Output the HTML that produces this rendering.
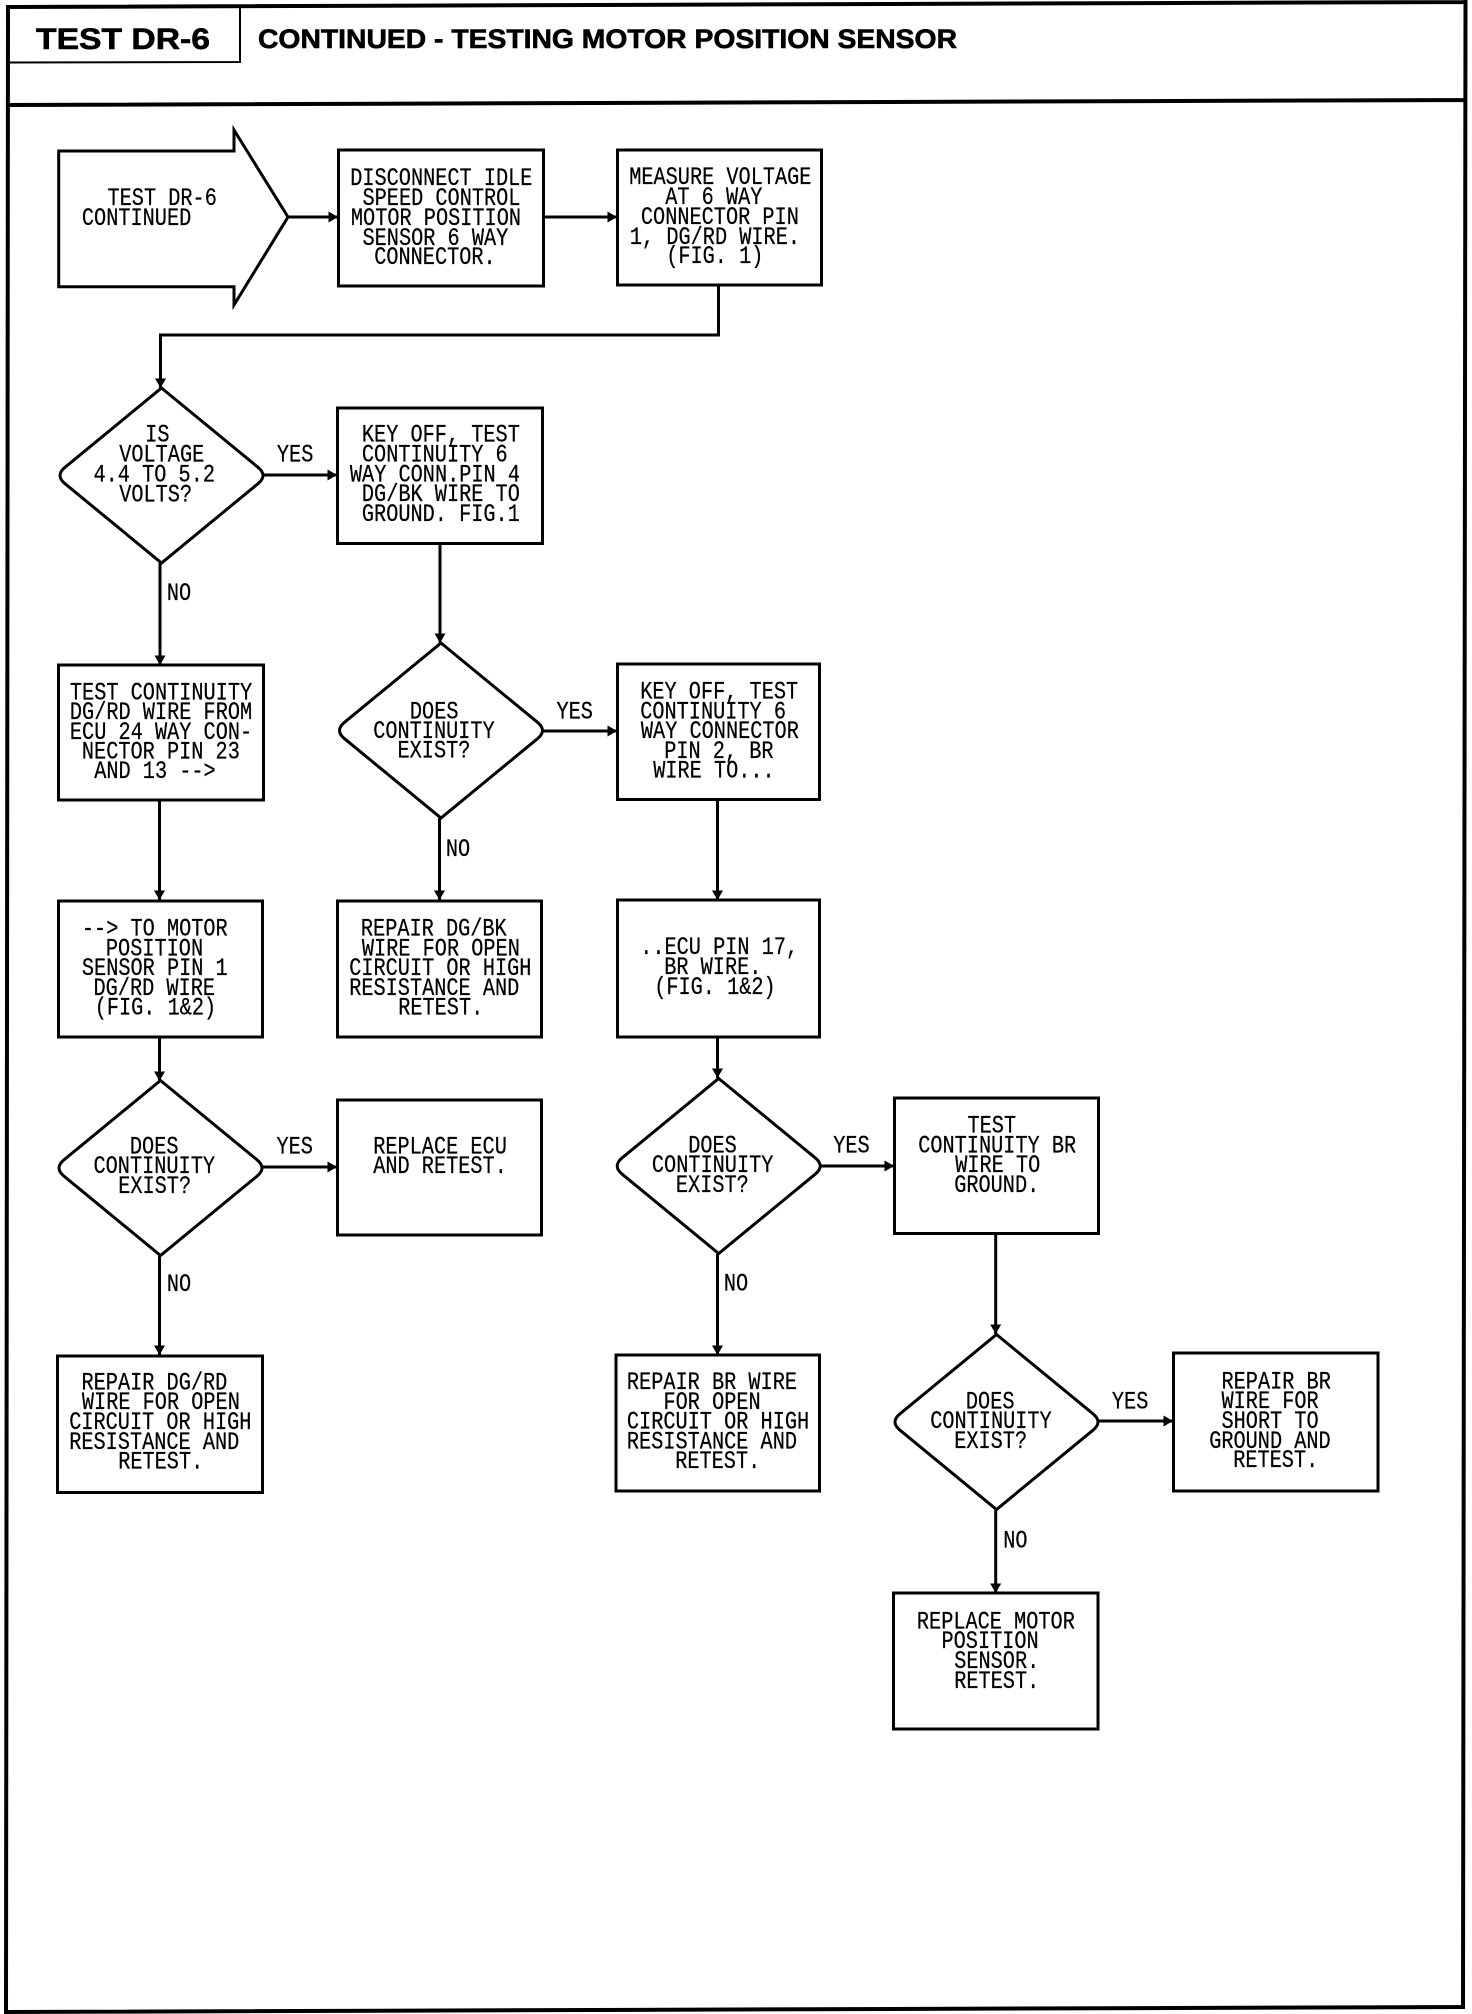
<!DOCTYPE html>
<html><head><meta charset="utf-8"><style>
html,body{margin:0;padding:0;background:#fff}
svg{display:block}
.s{fill:none;stroke:#000;stroke-width:3;stroke-linejoin:miter}
.w{fill:#fff;stroke:#000;stroke-width:3}
.t text{font-family:"Liberation Mono",monospace;font-size:24.7px;fill:#000;stroke:#000;stroke-width:.25}
.h{font-family:"Liberation Sans",sans-serif;font-weight:bold;fill:#000;stroke:#000;stroke-width:.6}
</style></head><body>
<svg xmlns="http://www.w3.org/2000/svg" width="1472" height="2014" viewBox="0 0 1472 2014">
<defs>
<path id="d" d="M0-87.5L96.5-8.2Q106.5 0 96.5 8.2L0 87.5L-96.5 8.2Q-106.5 0-96.5-8.2Z" fill="#fff" stroke="#000" stroke-width="3"/>
<path id="ad" d="M-5.5-9.5H5.5L0 0Z" fill="#000"/>
<path id="ar" d="M-9.5-5.5V5.5L0 0Z" fill="#000"/>
</defs>
<rect width="1472" height="2014" fill="#fff"/>
<!-- frame -->
<path d="M8 7L1466 2M1465.5 0L1463 2009M1463 2007L6 2012M6 2014L8 5M6 105L1465 100" fill="none" stroke="#000" stroke-width="4"/>
<path d="M8 62.5L240 62M240 7V63" fill="none" stroke="#000" stroke-width="2"/>
<text class="h" x="36" y="49" font-size="30" textLength="174" lengthAdjust="spacingAndGlyphs">TEST DR-6</text>
<text class="h" x="258" y="48" font-size="26.5" textLength="699" lengthAdjust="spacingAndGlyphs">CONTINUED - TESTING MOTOR POSITION SENSOR</text>
<!-- connectors -->
<g class="s">
<path d="M288 217H338M543 217H617M718.5 285V335H160.5V388"/>
<path d="M263 475H337M440 543V643M160 563V665M159.5 800V900M159.5 1037V1081M262 1167H337M159.5 1255V1355"/>
<path d="M543 731H617M439.5 818V900M717.5 800V900M717.5 1037V1078M820 1166H894M717.5 1254V1355M995.7 1233V1334M1098 1421H1173M995.7 1510V1593"/>
</g>
<!-- arrowheads -->
<use href="#ar" x="338" y="217"/><use href="#ar" x="617" y="217"/><use href="#ad" x="160.5" y="388"/>
<use href="#ar" x="337" y="475"/><use href="#ad" x="440" y="643"/><use href="#ad" x="160" y="665"/>
<use href="#ad" x="159.5" y="900"/><use href="#ad" x="159.5" y="1081"/><use href="#ar" x="337" y="1167"/>
<use href="#ad" x="159.5" y="1355"/><use href="#ar" x="617" y="731"/><use href="#ad" x="439.5" y="900"/>
<use href="#ad" x="717.5" y="900"/><use href="#ad" x="717.5" y="1078"/><use href="#ar" x="894" y="1166"/>
<use href="#ad" x="717.5" y="1355"/><use href="#ad" x="995.7" y="1334"/><use href="#ar" x="1173" y="1421"/>
<use href="#ad" x="995.7" y="1593"/>
<!-- shapes -->
<path class="s" d="M288 217L234 130V151H58.7V286.7H234V305Z"/>
<g class="s">
<rect x="338.5" y="150" width="205" height="136"/>
<rect x="617.5" y="150" width="204" height="135"/>
<rect x="337.5" y="408" width="205" height="135.5"/>
<rect x="58.5" y="665" width="205" height="135"/>
<rect x="58.5" y="901" width="204" height="136"/>
<rect x="337.5" y="901" width="204" height="136"/>
<rect x="337.5" y="1100" width="204" height="135"/>
<rect x="57.5" y="1356" width="205" height="136.5"/>
<rect x="617.5" y="664" width="202" height="135.5"/>
<rect x="617.5" y="900" width="202" height="137"/>
<rect x="894.5" y="1098" width="204" height="135.5"/>
<rect x="616" y="1355" width="203.5" height="136"/>
<rect x="1173.5" y="1353" width="204.5" height="138"/>
<rect x="893.5" y="1593" width="204.5" height="136"/>
</g>
<use href="#d" x="161.5" y="475.5"/><use href="#d" x="441" y="730.5"/><use href="#d" x="160.5" y="1168"/>
<use href="#d" x="718.7" y="1166"/><use href="#d" x="996.5" y="1422"/>
<!-- text -->
<g class="t" transform="translate(.7 0)">
<text transform="matrix(.82 0 0 1 106.8 205)">TEST DR-6</text>
<text transform="matrix(.82 0 0 1 81.2 225)">CONTINUED</text>

<text transform="matrix(.82 0 0 1 349.5 185)">DISCONNECT IDLE</text>
<text transform="matrix(.82 0 0 1 361.8 205)">SPEED CONTROL</text>
<text transform="matrix(.82 0 0 1 350.2 225)">MOTOR POSITION</text>
<text transform="matrix(.82 0 0 1 361.8 245)">SENSOR 6 WAY</text>
<text transform="matrix(.82 0 0 1 373.5 264)">CONNECTOR.</text>

<text transform="matrix(.82 0 0 1 628.5 184)">MEASURE VOLTAGE</text>
<text transform="matrix(.82 0 0 1 664.5 204)">AT 6 WAY</text>
<text transform="matrix(.82 0 0 1 640.2 224)">CONNECTOR PIN</text>
<text transform="matrix(.82 0 0 1 629.2 244)">1, DG/RD WIRE.</text>
<text transform="matrix(.82 0 0 1 665.5 263)">(FIG. 1)</text>

<text transform="matrix(.82 0 0 1 144.5 441.7)">IS</text>
<text transform="matrix(.82 0 0 1 118.5 461.7)">VOLTAGE</text>
<text transform="matrix(.82 0 0 1 92.8 481.7)">4.4 TO 5.2</text>
<text transform="matrix(.82 0 0 1 118.5 501.7)">VOLTS?</text>
<text transform="matrix(.82 0 0 1 276.2 461.7)">YES</text>
<text transform="matrix(.82 0 0 1 166.2 600)">NO</text>

<text transform="matrix(.82 0 0 1 361.2 441.7)">KEY OFF, TEST</text>
<text transform="matrix(.82 0 0 1 361.2 461.7)">CONTINUITY 6</text>
<text transform="matrix(.82 0 0 1 349.2 481.7)">WAY CONN.PIN 4</text>
<text transform="matrix(.82 0 0 1 361.2 501)">DG/BK WIRE TO</text>
<text transform="matrix(.82 0 0 1 361.2 521)">GROUND. FIG.1</text>

<text transform="matrix(.82 0 0 1 69.2 699.3)">TEST CONTINUITY</text>
<text transform="matrix(.82 0 0 1 69.2 719)">DG/RD WIRE FROM</text>
<text transform="matrix(.82 0 0 1 69.2 739)">ECU 24 WAY CON-</text>
<text transform="matrix(.82 0 0 1 81.2 758.7)">NECTOR PIN 23</text>
<text transform="matrix(.82 0 0 1 93.5 778)">AND 13 --&gt;</text>

<text transform="matrix(.82 0 0 1 409.2 718.3)">DOES</text>
<text transform="matrix(.82 0 0 1 372.5 738)">CONTINUITY</text>
<text transform="matrix(.82 0 0 1 396.8 757.7)">EXIST?</text>
<text transform="matrix(.82 0 0 1 555.8 718.3)">YES</text>
<text transform="matrix(.82 0 0 1 445.2 856)">NO</text>

<text transform="matrix(.82 0 0 1 639.5 698.3)">KEY OFF, TEST</text>
<text transform="matrix(.82 0 0 1 639.5 718.3)">CONTINUITY 6</text>
<text transform="matrix(.82 0 0 1 640.2 738)">WAY CONNECTOR</text>
<text transform="matrix(.82 0 0 1 663.5 758)">PIN 2, BR</text>
<text transform="matrix(.82 0 0 1 652.5 777.7)">WIRE TO...</text>

<text transform="matrix(.82 0 0 1 81.2 935.7)">--&gt; TO MOTOR</text>
<text transform="matrix(.82 0 0 1 105.2 955.7)">POSITION</text>
<text transform="matrix(.82 0 0 1 81.2 975)">SENSOR PIN 1</text>
<text transform="matrix(.82 0 0 1 92.8 995)">DG/RD WIRE</text>
<text transform="matrix(.82 0 0 1 94 1014.7)">(FIG. 1&amp;2)</text>

<text transform="matrix(.82 0 0 1 360.2 935.7)">REPAIR DG/BK</text>
<text transform="matrix(.82 0 0 1 361.2 955.7)">WIRE FOR OPEN</text>
<text transform="matrix(.82 0 0 1 348.5 975)">CIRCUIT OR HIGH</text>
<text transform="matrix(.82 0 0 1 348.5 995)">RESISTANCE AND</text>
<text transform="matrix(.82 0 0 1 397.5 1014.7)">RETEST.</text>

<text transform="matrix(.82 0 0 1 639.5 954)">..ECU PIN 17,</text>
<text transform="matrix(.82 0 0 1 663.5 974)">BR WIRE.</text>
<text transform="matrix(.82 0 0 1 653.5 994)">(FIG. 1&amp;2)</text>

<text transform="matrix(.82 0 0 1 129.2 1153.3)">DOES</text>
<text transform="matrix(.82 0 0 1 92.8 1173)">CONTINUITY</text>
<text transform="matrix(.82 0 0 1 117.5 1193)">EXIST?</text>
<text transform="matrix(.82 0 0 1 275.8 1153.3)">YES</text>
<text transform="matrix(.82 0 0 1 166.2 1291)">NO</text>

<text transform="matrix(.82 0 0 1 372.5 1153.3)">REPLACE ECU</text>
<text transform="matrix(.82 0 0 1 372.5 1173)">AND RETEST.</text>

<text transform="matrix(.82 0 0 1 687.5 1152.3)">DOES</text>
<text transform="matrix(.82 0 0 1 651.2 1172)">CONTINUITY</text>
<text transform="matrix(.82 0 0 1 675.2 1192)">EXIST?</text>
<text transform="matrix(.82 0 0 1 832.5 1152.3)">YES</text>
<text transform="matrix(.82 0 0 1 723.2 1290.7)">NO</text>

<text transform="matrix(.82 0 0 1 966.8 1132.3)">TEST</text>
<text transform="matrix(.82 0 0 1 917.5 1152.3)">CONTINUITY BR</text>
<text transform="matrix(.82 0 0 1 954.5 1172)">WIRE TO</text>
<text transform="matrix(.82 0 0 1 953.5 1192)">GROUND.</text>

<text transform="matrix(.82 0 0 1 80.8 1389.3)">REPAIR DG/RD</text>
<text transform="matrix(.82 0 0 1 81.2 1409)">WIRE FOR OPEN</text>
<text transform="matrix(.82 0 0 1 68.5 1429)">CIRCUIT OR HIGH</text>
<text transform="matrix(.82 0 0 1 68.5 1449)">RESISTANCE AND</text>
<text transform="matrix(.82 0 0 1 117.5 1468.7)">RETEST.</text>

<text transform="matrix(.82 0 0 1 626.2 1389)">REPAIR BR WIRE</text>
<text transform="matrix(.82 0 0 1 662.8 1409)">FOR OPEN</text>
<text transform="matrix(.82 0 0 1 626.2 1428.7)">CIRCUIT OR HIGH</text>
<text transform="matrix(.82 0 0 1 626.2 1448.7)">RESISTANCE AND</text>
<text transform="matrix(.82 0 0 1 674.5 1468)">RETEST.</text>

<text transform="matrix(.82 0 0 1 965.2 1408.3)">DOES</text>
<text transform="matrix(.82 0 0 1 929.5 1428)">CONTINUITY</text>
<text transform="matrix(.82 0 0 1 953.5 1448)">EXIST?</text>
<text transform="matrix(.82 0 0 1 1111.2 1408.3)">YES</text>
<text transform="matrix(.82 0 0 1 1002.5 1547.3)">NO</text>

<text transform="matrix(.82 0 0 1 1220.8 1388.3)">REPAIR BR</text>
<text transform="matrix(.82 0 0 1 1220.8 1408)">WIRE FOR</text>
<text transform="matrix(.82 0 0 1 1220.8 1428)">SHORT TO</text>
<text transform="matrix(.82 0 0 1 1208.5 1448)">GROUND AND</text>
<text transform="matrix(.82 0 0 1 1232.5 1467)">RETEST.</text>

<text transform="matrix(.82 0 0 1 916.2 1628.3)">REPLACE MOTOR</text>
<text transform="matrix(.82 0 0 1 940.8 1648)">POSITION</text>
<text transform="matrix(.82 0 0 1 953.5 1668)">SENSOR.</text>
<text transform="matrix(.82 0 0 1 953.5 1688)">RETEST.</text>
</g>
</svg>
</body></html>
